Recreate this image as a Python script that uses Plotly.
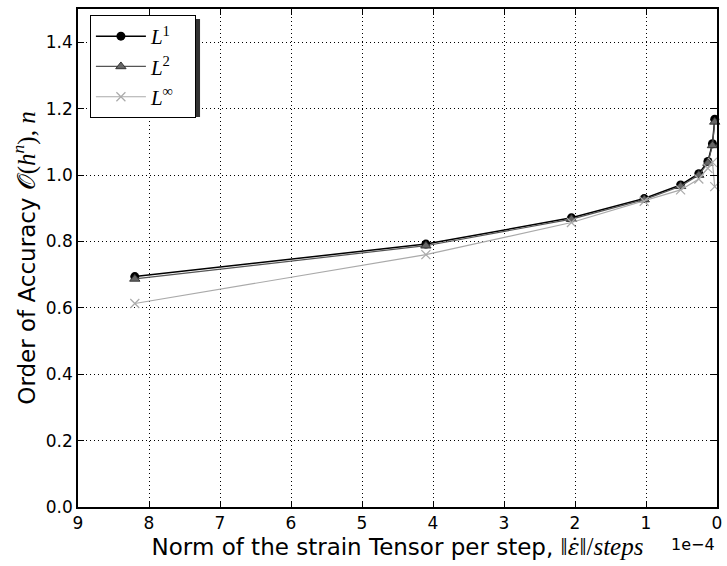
import plotly.graph_objects as go

# Data (x in units of 1e-4)
strain_per_step = [8.2, 4.1, 2.05, 1.025, 0.5125, 0.25625, 0.128, 0.064, 0.032]
order_L1 = [0.694, 0.792, 0.871, 0.929, 0.970, 1.004, 1.041, 1.094, 1.168]
order_L2 = [0.687, 0.787, 0.867, 0.926, 0.966, 1.000, 1.036, 1.089, 1.160]
order_Linf = [0.613, 0.760, 0.857, 0.921, 0.955, 0.988, 1.020, 1.038, 0.965]

x_ticks = [9, 8, 7, 6, 5, 4, 3, 2, 1, 0]
y_ticks = [0.0, 0.2, 0.4, 0.6, 0.8, 1.0, 1.2, 1.4]

SERIF = "font-family:'Liberation Serif';font-size:25px"
DJS = "font-family:'DejaVu Serif';font-size:22px"
NB = "\u00a0"

fig = go.Figure()
fig.add_trace(go.Scatter(
    x=strain_per_step, y=order_L1, mode="lines+markers",
    name="<i>L</i><sup>1</sup>" + NB * 3,
    line=dict(color="black", width=1.5),
    marker=dict(symbol="circle", size=9, color="black"),
    cliponaxis=False,
))
fig.add_trace(go.Scatter(
    x=strain_per_step, y=order_L2, mode="lines+markers",
    name="<i>L</i><sup>2</sup>" + NB * 3,
    line=dict(color="#555555", width=1.2),
    marker=dict(symbol="triangle-up", size=9, color="#666666",
                line=dict(color="#333333", width=1)),
    cliponaxis=False,
))
fig.add_trace(go.Scatter(
    x=strain_per_step, y=order_Linf, mode="lines+markers",
    name="<i>L</i><sup>∞</sup>" + NB * 3,
    line=dict(color="#aaaaaa", width=1.2),
    marker=dict(symbol="x-thin", size=9, color="#aaaaaa",
                line=dict(color="#aaaaaa", width=1.2)),
    cliponaxis=False,
))

axis_common = dict(
    showline=True, linecolor="black", linewidth=1.5, mirror="allticks",
    ticks="inside", ticklen=6, tickcolor="black", tickwidth=1,
    showgrid=True, gridcolor="black", gridwidth=1, griddash="1px,3px",
    zeroline=False,
    tickfont=dict(family="DejaVu Sans", size=17, color="black"),
)

xtitle = (f"Norm of the strain Tensor per step, <span style=\"{SERIF}\">‖</span>"
          f"<span style=\"{DJS}\"><i>ε̇</i></span>"
          f"<span style=\"{SERIF}\">‖/<i>steps</i></span>")

fig.update_xaxes(
    range=[9, 0], tickvals=x_ticks, ticktext=[str(t) for t in x_ticks],
    title=dict(text=xtitle,
               font=dict(family="DejaVu Sans", size=23, color="black"), standoff=2),
    **axis_common,
)
fig.update_yaxes(
    range=[0, 1.5], tickvals=y_ticks, ticktext=[f"{t:.1f}" for t in y_ticks],
    title=dict(text=f"Order of Accuracy <span style=\"{SERIF}\">𝒪(<i>h</i><sup><i>n</i></sup>), <i>n</i></span>",
               font=dict(family="DejaVu Sans", size=23, color="black"), standoff=4),
    **axis_common,
)

# legend shadow
fig.add_shape(type="rect", xref="paper", yref="paper",
              x0=(94 - 78) / 644, x1=(201 - 78) / 644,
              y0=(507 - 117) / 498, y1=(507 - 19) / 498,
              fillcolor="#333333", line=dict(width=0), layer="above")

fig.add_annotation(text="1e−4", xref="paper", yref="paper", x=1.0, y=0,
                   xanchor="right", yanchor="top", yshift=-26, showarrow=False,
                   font=dict(family="DejaVu Sans", size=16, color="black"))

fig.update_layout(
    width=727, height=566,
    margin=dict(l=78, r=5, t=9, b=59),
    paper_bgcolor="white", plot_bgcolor="white",
    showlegend=True,
    legend=dict(x=(90 - 78) / 644, y=(507 - 15) / 498, xanchor="left", yanchor="top",
                bgcolor="white", bordercolor="black", borderwidth=1,
                font=dict(family="Liberation Serif", size=21, color="black"),
                itemwidth=50, tracegroupgap=0),
)

fig.write_html("out.html", config={"displayModeBar": False},
               post_script="document.body.style.margin='0';")
